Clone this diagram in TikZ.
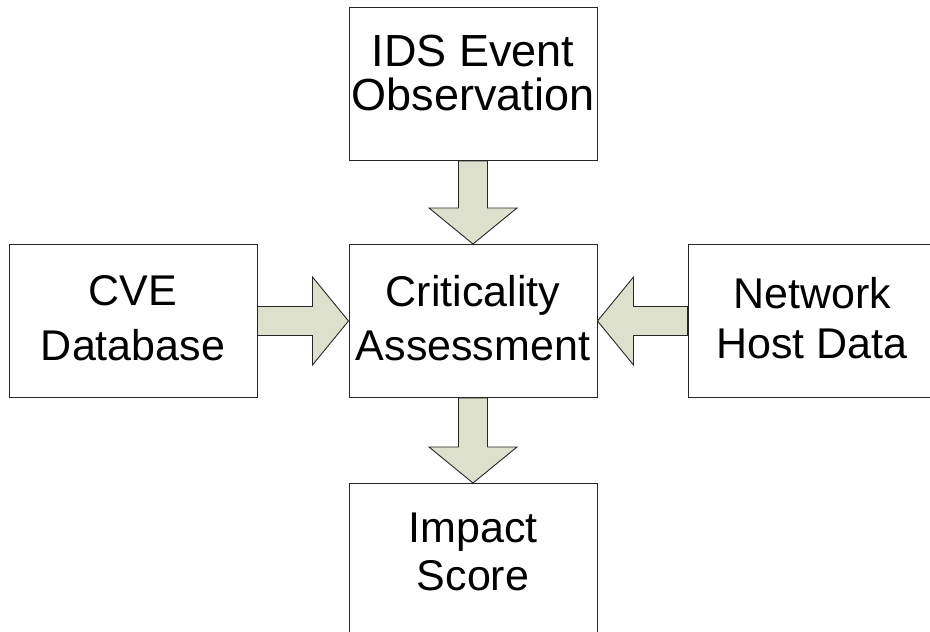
\documentclass[tikz,border=0pt]{standalone}
\usepackage{fontspec}
\setmainfont{Liberation Sans}
\usetikzlibrary{calc}
\usetikzlibrary{positioning}
\definecolor{arrowfill}{RGB}{221,224,204}
\tikzset{
	box/.style={draw=black!85, line width=1pt, fill=white, minimum width=248pt, minimum height=153pt, align=center, inner sep=0pt},
	txt/.style 2 args={font=\fontsize{#1}{#2}\selectfont},
	lift/.style={text depth=#1},
	fatarr/.style={draw=black!85, line width=0.9pt, fill=arrowfill, line join=miter}
}
% block arrow from one node anchor to another
\newcommand{\fatarrow}[2]{%
	\draw[fatarr] let \p1=(#1), \p2=(#2), \n1={atan2(\y2-\y1,\x2-\x1)}, \n2={veclen(\x2-\x1,\y2-\y1)} in
	{[shift={(\p1)}, rotate=\n1] (0,-14.5) -- (\n2-36,-14.5) -- (\n2-36,-44) -- (\n2,0) -- (\n2-36,44) -- (\n2-36,14.5) -- (0,14.5) -- cycle};}
\begin{document}
\begin{tikzpicture}[x=1pt,y=-1pt]
			\useasboundingbox (0,0) rectangle (930,632);
			\node[box, txt={43}{54}, lift=6pt] (crit) at (473,321) {Criticality\\Assessment};
			\node[box, txt={45}{44}, lift=22pt, above=83pt of crit] (ids) {IDS Event\\Observation};
			\node[box, txt={43}{48}, lift=16pt, below=85pt of crit] (impact) {Impact\\Score};
			\node[box, txt={43}{55}, lift=6pt, left=91pt of crit] (cve) {CVE\\Database};
			% right box runs off the edge
			\node[box, txt={43}{50}, lift=6pt, right=90pt of crit, minimum width=300pt] (host) {Network\hspace*{52pt}\\Host Data\hspace*{52pt}};
			\fatarrow{ids.south}{crit.north}
			\fatarrow{cve.east}{crit.west}
			\fatarrow{host.west}{crit.east}
			\fatarrow{crit.south}{impact.north}
		\end{tikzpicture}
\end{document}
